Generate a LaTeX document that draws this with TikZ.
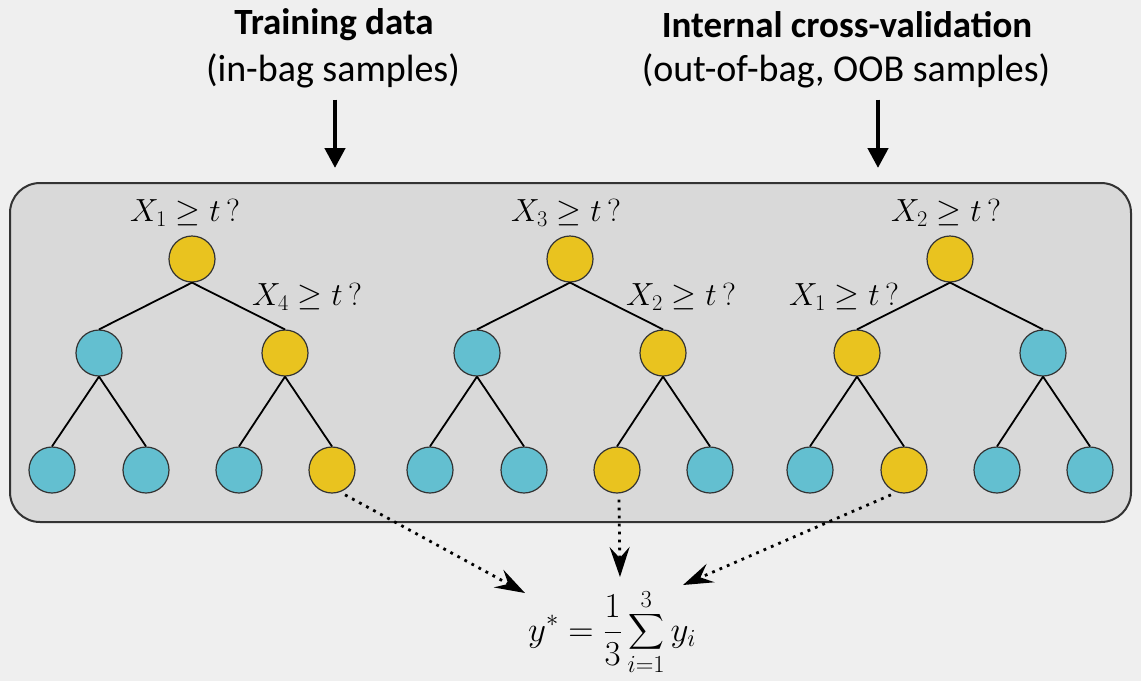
\RequirePackage{fix-cm}
\documentclass[tikz,border=0pt]{standalone}
\usepackage{amsmath}
\usepackage{exscale}
\usepackage{fontspec}
\newfontfamily\carlito{Carlito}
\usetikzlibrary{arrows.meta,positioning}
\definecolor{bggray}{HTML}{EFEFEF}
\definecolor{boxgray}{HTML}{D9D9D9}
\definecolor{tyellow}{HTML}{E9C31F}
\definecolor{tblue}{HTML}{63BFD0}
\tikzset{
  split/.style  = {draw=black!80, line width=1.2pt, circle, inner sep=0pt,
                   minimum size=46pt, fill=tyellow},
  leaf/.style   = {split, fill=tblue},
  branch/.style = {line width=1.8pt},
  cond/.style   = {font=\fontsize{32}{35}\selectfont},
  head/.style   = {font=\carlito\fontsize{38}{42}\selectfont},
  headB/.style  = {font=\carlito\bfseries\fontsize{37}{41}\selectfont},
  feed/.style   = {-{Triangle[length=20pt,width=20pt]}, line width=4.5pt},
  vote/.style   = {-{Stealth[length=30pt,width=20pt,inset=11pt]}, line width=2.8pt,
                   dash pattern=on 2.8pt off 5.2pt},
}

\begin{document}
\begin{tikzpicture}[x=1pt, y=-1pt]
\useasboundingbox[fill=bggray] (0,0) rectangle (1141,681);
% ---- headings ----
\node[headB] (trainT) at (334,25) {Training data};
\node[head] (trainS) at (333,71) {(in-bag samples)};
\node[headB] (oobT) at (847,25) {Internal cross-validation};
\node[head] (oobS) at (846,71) {(out-of-bag, OOB samples)};
\coordinate (trainA) at (335,168);
\coordinate (oobA) at (878,168);
\draw[feed] (trainS.south -| trainA) ++(0,8) -- (trainA);
\draw[feed] (oobS.south -| oobA) ++(0,8) -- (oobA);
% ---- forest panel ----
\draw[line width=2pt, draw=black!80, fill=boxgray, rounded corners=30pt]
  (10,183) rectangle (1131,522);
% ---- trees ----
\foreach \t/\x/\cl/\cr/\ca/\cb/\cc/\cd in
  {1/192/leaf/split/leaf/leaf/leaf/split,
   2/570/leaf/split/leaf/leaf/split/leaf,
   3/950/split/leaf/leaf/split/leaf/leaf}{
  \node[split] (t\t root) at (\x,259) {};
  \node[\cl] (t\t L) at (\x-93,353) {};
  \node[\cr] (t\t R) at (\x+93,353) {};
  \node[\ca] (t\t LL) at (\x-140,470) {};
  \node[\cb] (t\t LR) at (\x-46,470) {};
  \node[\cc] (t\t RL) at (\x+47,470) {};
  \node[\cd] (t\t RR) at (\x+140,470) {};
  \draw[branch] (t\t root.south) -- (t\t L.north);
  \draw[branch] (t\t root.south) -- (t\t R.north);
  \draw[branch] (t\t L.south) -- (t\t LL.north);
  \draw[branch] (t\t L.south) -- (t\t LR.north);
  \draw[branch] (t\t R.south) -- (t\t RL.north);
  \draw[branch] (t\t R.south) -- (t\t RR.north);
}
% ---- split conditions ----
\node[cond] (c1a) at (185,213) {$X_1 \geq t\,?$};
\node[cond] (c1b) at (307,297) {$X_4 \geq t\,?$};
\node[cond] (c2a) at (566,213) {$X_3 \geq t\,?$};
\node[cond] (c2b) at (681,297) {$X_2 \geq t\,?$};
\node[cond] (c3a) at (946,213) {$X_2 \geq t\,?$};
\node[cond] (c3b) at (844,297) {$X_1 \geq t\,?$};
% ---- averaging ----
\node[font=\fontsize{35}{39}\selectfont] (avg) at (612,632)
     {$\displaystyle y^* = \frac{1}{3}\sum_{i=1}^{3} y_i$};
\coordinate (in1) at (525,593);
\coordinate (in2) at (620,577);
\coordinate (in3) at (683,585);
\draw[vote] (t1RR.-62) ++(2,4) -- (in1);
\draw[vote] (t2RL.south) ++(2,6) -- (in2);
\draw[vote] (t3LR.-118) ++(-2,4) -- (in3);
\end{tikzpicture}
\end{document}
